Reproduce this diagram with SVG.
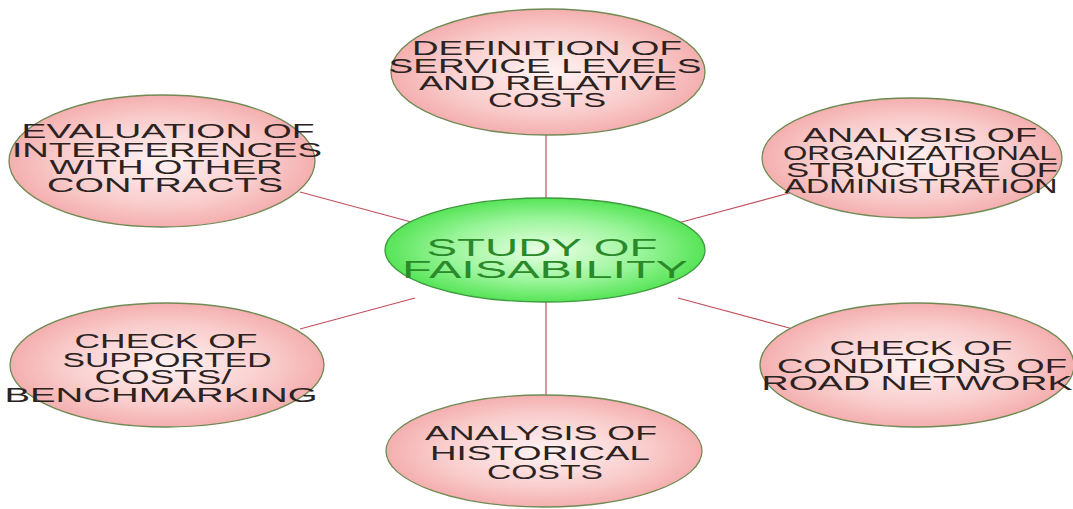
<svg xmlns="http://www.w3.org/2000/svg" width="1073" height="509" viewBox="0 0 1073 509">
<defs>
<radialGradient id="pink" cx="50%" cy="50%" r="55%">
<stop offset="0" stop-color="#fff3f3"/>
<stop offset="0.6" stop-color="#f9cccc"/>
<stop offset="1" stop-color="#f3a6a6"/>
</radialGradient>
<radialGradient id="green" cx="50%" cy="50%" r="55%">
<stop offset="0" stop-color="#eaffe6"/>
<stop offset="0.55" stop-color="#9af59a"/>
<stop offset="1" stop-color="#46e046"/>
</radialGradient>
</defs>
<style>
.p{fill:url(#pink);stroke:#6f8a52;stroke-width:1.3}
.g{fill:url(#green);stroke:#3c9a3c;stroke-width:1.3}
.t{font-family:"Liberation Sans",Arial,sans-serif;font-size:20px;fill:#2b2222;text-anchor:middle}
.tg{font-family:"Liberation Sans",Arial,sans-serif;font-size:24px;fill:#2a8a2a;text-anchor:middle}
.c{stroke:#c0505c;stroke-width:1.2;fill:none}
</style>
<rect width="1073" height="509" fill="#ffffff"/>
<g id="connectors">
<line class="c" x1="546" y1="130" x2="546" y2="200"/>
<line class="c" x1="546" y1="300" x2="546" y2="398"/>
<line class="c" x1="300" y1="192" x2="415" y2="223"/>
<line class="c" x1="678" y1="223" x2="793" y2="192"/>
<line class="c" x1="300" y1="329" x2="415" y2="298"/>
<line class="c" x1="678" y1="298" x2="793" y2="329"/>
</g>
<g id="n-top">
<ellipse class="p" cx="548" cy="72" rx="157" ry="63"/>
<text class="t" x="547" y="55" textLength="270" lengthAdjust="spacingAndGlyphs">DEFINITION OF</text>
<text class="t" x="545" y="73" textLength="313" lengthAdjust="spacingAndGlyphs">SERVICE LEVELS</text>
<text class="t" x="548" y="90" textLength="258" lengthAdjust="spacingAndGlyphs">AND RELATIVE</text>
<text class="t" x="547" y="107" textLength="118" lengthAdjust="spacingAndGlyphs">COSTS</text>
</g>
<g id="n-left-top">
<ellipse class="p" cx="162" cy="161" rx="153" ry="66"/>
<text class="t" x="168" y="138" textLength="293" lengthAdjust="spacingAndGlyphs">EVALUATION OF</text>
<text class="t" x="167" y="157" textLength="310" lengthAdjust="spacingAndGlyphs">INTERFERENCES</text>
<text class="t" x="166" y="174" textLength="233" lengthAdjust="spacingAndGlyphs">WITH OTHER</text>
<text class="t" x="165" y="192" textLength="236" lengthAdjust="spacingAndGlyphs">CONTRACTS</text>
</g>
<g id="n-right-top">
<ellipse class="p" cx="912" cy="158" rx="150" ry="60"/>
<text class="t" x="920" y="142" textLength="234" lengthAdjust="spacingAndGlyphs">ANALYSIS OF</text>
<text class="t" x="920" y="160" font-size="18" textLength="274" lengthAdjust="spacingAndGlyphs">ORGANIZATIONAL</text>
<text class="t" x="922" y="177" textLength="272" lengthAdjust="spacingAndGlyphs">STRUCTURE OF</text>
<text class="t" x="921" y="193" font-size="18" textLength="273" lengthAdjust="spacingAndGlyphs">ADMINISTRATION</text>
</g>
<g id="n-center">
<ellipse class="g" cx="545" cy="250" rx="160" ry="52"/>
<text class="tg" x="542" y="256" textLength="231" lengthAdjust="spacingAndGlyphs">STUDY OF</text>
<text class="tg" x="545" y="278" textLength="286" lengthAdjust="spacingAndGlyphs">FAISABILITY</text>
</g>
<g id="n-left-bottom">
<ellipse class="p" cx="167" cy="365" rx="157" ry="62"/>
<text class="t" x="166" y="348" textLength="183" lengthAdjust="spacingAndGlyphs">CHECK OF</text>
<text class="t" x="167" y="367" textLength="209" lengthAdjust="spacingAndGlyphs">SUPPORTED</text>
<text class="t" x="163" y="384" textLength="137" lengthAdjust="spacingAndGlyphs">COSTS/</text>
<text class="t" x="161" y="402" textLength="313" lengthAdjust="spacingAndGlyphs">BENCHMARKING</text>
</g>
<g id="n-right-bottom">
<ellipse class="p" cx="917" cy="365" rx="157" ry="62"/>
<text class="t" x="921" y="355" textLength="183" lengthAdjust="spacingAndGlyphs">CHECK OF</text>
<text class="t" x="922" y="373" textLength="290" lengthAdjust="spacingAndGlyphs">CONDITIONS OF</text>
<text class="t" x="917" y="390" textLength="311" lengthAdjust="spacingAndGlyphs">ROAD NETWORK</text>
</g>
<g id="n-bottom">
<ellipse class="p" cx="544" cy="451" rx="158" ry="56"/>
<text class="t" x="541" y="440" font-size="22" textLength="232" lengthAdjust="spacingAndGlyphs">ANALYSIS OF</text>
<text class="t" x="540" y="460" font-size="22" textLength="220" lengthAdjust="spacingAndGlyphs">HISTORICAL</text>
<text class="t" x="545" y="479" font-size="22" textLength="116" lengthAdjust="spacingAndGlyphs">COSTS</text>
</g>
</svg>
